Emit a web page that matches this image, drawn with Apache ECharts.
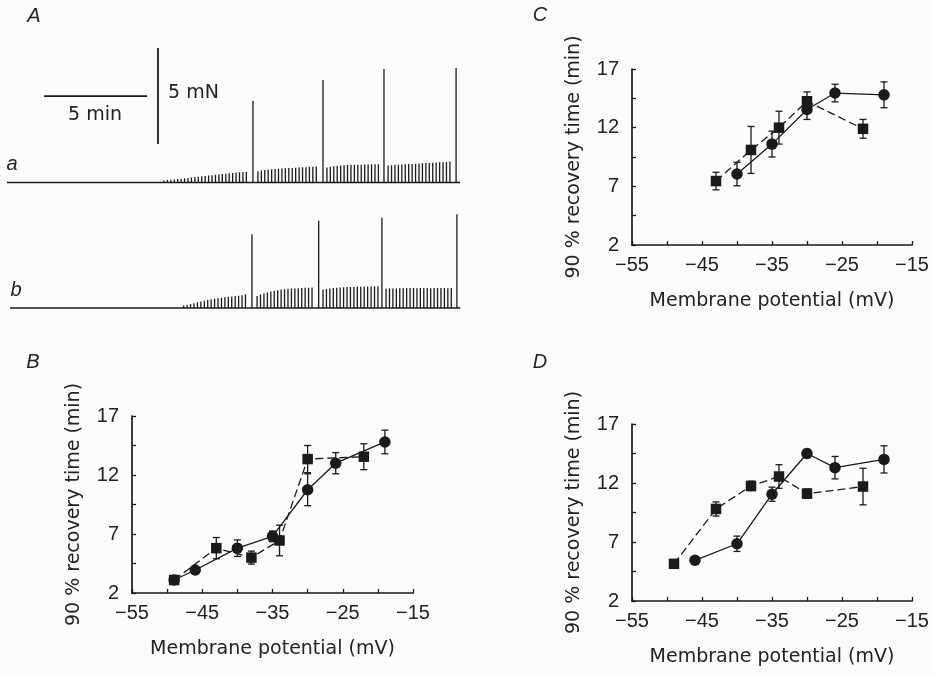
<!DOCTYPE html>
<html>
<head>
<meta charset="utf-8">
<script src="https://cdn.jsdelivr.net/npm/echarts@6/dist/echarts.min.js"></script>
<style>
  html, body { margin: 0; padding: 0; background: #fbfbfb; }
  #chart { width: 933px; height: 675px; }
</style>
</head>
<body>
<div id="chart"></div>
<script>
// ---------- Panel A: force records (time in min, force in mN) ----------
const twitchInterval = 1 / 6;          // one twitch every 10 s
const recordEnd = 22.0;

// record a
const recordAStart = 0.0;
const recordASegStarts = [6.12, 12.18, 15.53, 18.50];
const recordASeg0 = [0.02, 0.03, 0.03, 0.04, 0.05, 0.06, 0.07, 0.08, 0.10, 0.11, 0.13, 0.14, 0.16, 0.18, 0.20, 0.22, 0.24,
                     0.26, 0.28, 0.30, 0.32, 0.34, 0.36, 0.38, 0.40, 0.42, 0.44, 0.46, 0.48, 0.50, 0.52, 0.53, 0.55, 0.56];
const recordASeg1 = [0.58, 0.62, 0.65, 0.67, 0.69, 0.70, 0.72, 0.73, 0.74, 0.75, 0.76, 0.77, 0.78, 0.79, 0.80, 0.81, 0.82, 0.83];
const recordASeg2 = [0.78, 0.82, 0.85, 0.87, 0.88, 0.90, 0.91, 0.92, 0.92, 0.93, 0.93, 0.94, 0.94, 0.95, 0.95, 0.95];
const recordASeg3 = [0.88, 0.90, 0.92, 0.93, 0.94, 0.95, 0.96, 0.97, 0.98, 0.99, 1.00, 1.01, 1.02, 1.03, 1.04, 1.05, 1.06, 1.07, 1.10];
const recordASpikeTimes = [11.94, 15.34, 18.30, 21.80];
const recordASpikeForces = [4.24, 5.34, 5.91, 5.96];

// record b
const recordBStart = 0.15;
const recordBSegStarts = [7.91, 12.14, 15.34, 18.40];
const recordBSeg0 = [0.03, 0.05, 0.07, 0.10, 0.13, 0.17, 0.21, 0.25, 0.30, 0.34, 0.38, 0.42, 0.45, 0.48, 0.51, 0.54, 0.56,
                     0.58, 0.60, 0.62, 0.64, 0.66, 0.70];
const recordBSeg1 = [0.62, 0.70, 0.76, 0.81, 0.86, 0.90, 0.93, 0.96, 0.98, 1.00, 1.01, 1.02, 1.03, 1.04, 1.05, 1.06, 1.07];
const recordBSeg2 = [0.96, 0.99, 1.02, 1.04, 1.06, 1.07, 1.08, 1.09, 1.10, 1.10, 1.11, 1.11, 1.12, 1.12, 1.12, 1.13, 1.13];
const recordBSeg3 = [1.00, 1.01, 1.02, 1.02, 1.03, 1.03, 1.03, 1.04, 1.04, 1.03, 1.04, 1.04, 1.04, 1.03, 1.04, 1.04, 1.04, 1.04, 1.03, 1.04];
const recordBSpikeTimes = [11.89, 15.13, 18.20, 21.84];
const recordBSpikeForces = [3.84, 4.55, 4.70, 4.88];

// calibration bars
const scaleMinutes = 5;
const scaleForce = 5;
const scaleBarTimeStart = 1.80, scaleBarTimeLevel = 4.5;
const scaleBarForceTime = 7.33, scaleBarForceStart = 2.0;

// ---------- Panels B–D: 90 % recovery time vs membrane potential ----------
const xTicks = [-55, -50, -45, -40, -35, -30, -25, -20, -15];
const xLabels = [-55, -45, -35, -25, -15];
const yTicks = [2, 4.5, 7, 9.5, 12, 14.5, 17];
const yLabels = [2, 7, 12, 17];

// B
const bCircleMv = [-49, -46, -40, -35, -30, -26, -19];
const bCircleMin = [3.1, 3.95, 5.8, 6.8, 10.75, 13.0, 14.8];
const bCircleErr = [0, 0, 0.7, 0.45, 1.35, 0.9, 1.0];
const bSquareMv = [-49, -43, -38, -34, -30, -22];
const bSquareMin = [3.1, 5.8, 5.0, 6.45, 13.35, 13.55];
const bSquareErr = [0, 0.9, 0.55, 1.3, 1.15, 1.1];

// C
const cCircleMv = [-40, -35, -30, -26, -19];
const cCircleMin = [8.05, 10.6, 13.55, 14.95, 14.8];
const cCircleErr = [1.0, 1.1, 0.85, 0.75, 1.1];
const cSquareMv = [-43, -38, -34, -30, -22];
const cSquareMin = [7.45, 10.1, 12.0, 14.25, 11.9];
const cSquareErr = [0.75, 2.0, 1.4, 0.8, 0.8];

// D
const dCircleMv = [-46, -40, -35, -30, -26, -19];
const dCircleMin = [5.45, 6.85, 11.05, 14.5, 13.3, 14.0];
const dCircleErr = [0, 0.65, 0.6, 0.35, 0.95, 1.15];
const dSquareMv = [-49, -43, -38, -34, -30, -22];
const dSquareMin = [5.15, 9.8, 11.75, 12.55, 11.1, 11.7];
const dSquareErr = [0.15, 0.6, 0.4, 1.0, 0.4, 1.55];

// ---------- styling ----------
const ink = '#1a1a1a';
const textInk = '#222222';
const tickFont = 'Liberation Sans';
const titleFont = 'DejaVu Sans';

function buildRecord(start, segStarts, segs, spikeTimes, spikeForces) {
  const events = [];
  segs.forEach((amps, k) => amps.forEach((a, i) => events.push([segStarts[k] + i * twitchInterval, a])));
  spikeTimes.forEach((t, i) => events.push([t, spikeForces[i]]));
  events.sort((p, q) => p[0] - q[0]);
  const pts = [[start, 0]];
  events.forEach(([t, a]) => { pts.push([t, 0], [t, a], [t, 0]); });
  pts.push([recordEnd, 0]);
  return pts;
}

const recordA = buildRecord(recordAStart, recordASegStarts,
  [recordASeg0, recordASeg1, recordASeg2, recordASeg3], recordASpikeTimes, recordASpikeForces);
const recordB = buildRecord(recordBStart, recordBSegStarts,
  [recordBSeg0, recordBSeg1, recordBSeg2, recordBSeg3], recordBSpikeTimes, recordBSpikeForces);

const minus = v => String(v).replace('-', '\u2212');

// grids: 0 = record a, 1 = record b, 2 = B, 3 = C, 4 = D
const grids = [
  { left: 7, width: 453.2, top: 38.5, height: 153.6 },
  { left: 7, width: 453.2, top: 202.4, height: 115.2 },
  { left: 132, width: 281, top: 416, height: 177 },
  { left: 632, width: 280, top: 69, height: 176 },
  { left: 632, width: 280, top: 424, height: 177 }
];

const hiddenX = i => ({ gridIndex: i, type: 'value', min: 0, max: recordEnd, show: false });
const plotX = i => ({
  gridIndex: i, type: 'value', min: -55, max: -15,
  axisLine: { show: true, onZero: false, lineStyle: { color: ink, width: 1.7 } },
  axisTick: { show: true, inside: true, length: 4, customValues: xTicks, lineStyle: { color: ink, width: 1.3 } },
  axisLabel: { customValues: xLabels, formatter: minus, fontFamily: tickFont, fontSize: 20, color: textInk, margin: 10 },
  splitLine: { show: false },
  name: 'Membrane potential (mV)', nameLocation: 'middle', nameGap: 47,
  nameTextStyle: { fontFamily: titleFont, fontSize: 19, color: textInk }
});
const plotY = i => ({
  gridIndex: i, type: 'value', min: 2, max: 17,
  axisLine: { show: true, onZero: false, lineStyle: { color: ink, width: 1.7 } },
  axisTick: { show: true, inside: true, length: 4, customValues: yTicks, lineStyle: { color: ink, width: 1.3 } },
  axisLabel: { customValues: yLabels, fontFamily: tickFont, fontSize: 20, color: textInk, margin: 13 },
  splitLine: { show: false },
  name: '90 % recovery time (min)', nameLocation: 'middle', nameGap: 48, nameRotate: 90,
  nameTextStyle: { fontFamily: titleFont, fontSize: 19, color: textInk }
});

function errorBars(g, xs, ys, errs) {
  const data = [];
  xs.forEach((x, i) => { if (errs[i] > 0) data.push([x, ys[i] - errs[i], ys[i] + errs[i]]); });
  return {
    type: 'custom', xAxisIndex: g, yAxisIndex: g, z: 2, silent: true,
    data,
    renderItem(params, api) {
      const lo = api.coord([api.value(0), api.value(1)]);
      const hi = api.coord([api.value(0), api.value(2)]);
      const w = 3.5;
      const st = { stroke: ink, lineWidth: 1.3 };
      return {
        type: 'group', children: [
          { type: 'line', shape: { x1: lo[0], y1: lo[1], x2: hi[0], y2: hi[1] }, style: st },
          { type: 'line', shape: { x1: lo[0] - w, y1: lo[1], x2: lo[0] + w, y2: lo[1] }, style: st },
          { type: 'line', shape: { x1: hi[0] - w, y1: hi[1], x2: hi[0] + w, y2: hi[1] }, style: st }
        ]
      };
    }
  };
}

function curve(g, xs, ys, shape) {
  const isSquare = shape === 'rect';
  return {
    type: 'line', xAxisIndex: g, yAxisIndex: g, z: isSquare ? 4 : 3,
    data: xs.map((x, i) => [x, ys[i]]),
    symbol: shape, symbolSize: isSquare ? 10.5 : 11.5,
    itemStyle: { color: ink },
    lineStyle: { color: ink, width: 1.3, type: isSquare ? [8, 4] : 'solid' },
    animation: false
  };
}

const panelLetter = (text, x, y) => ({
  type: 'text', x, y,
  style: { text, fontFamily: 'Liberation Sans', fontStyle: 'italic', fontSize: 20, fill: textInk,
           align: 'center', verticalAlign: 'middle' }
});

const option = {
  backgroundColor: '#fbfbfb',
  animation: false,
  grid: grids,
  xAxis: [hiddenX(0), hiddenX(1), plotX(2), plotX(3), plotX(4)],
  yAxis: [
    { gridIndex: 0, type: 'value', min: -0.5, max: 7.5, show: false },
    { gridIndex: 1, type: 'value', min: -0.5, max: 5.5, show: false },
    plotY(2), plotY(3), plotY(4)
  ],
  series: [
    { type: 'line', xAxisIndex: 0, yAxisIndex: 0, data: recordA, symbol: 'none',
      lineStyle: { color: ink, width: 1.3 } },
    { type: 'line', xAxisIndex: 1, yAxisIndex: 1, data: recordB, symbol: 'none',
      lineStyle: { color: ink, width: 1.3 } },
    // calibration bars
    { type: 'line', xAxisIndex: 0, yAxisIndex: 0, symbol: 'none', lineStyle: { color: ink, width: 1.8 },
      data: [[scaleBarTimeStart, scaleBarTimeLevel], [scaleBarTimeStart + scaleMinutes, scaleBarTimeLevel]] },
    { type: 'line', xAxisIndex: 0, yAxisIndex: 0, symbol: 'none', lineStyle: { color: ink, width: 1.8 },
      data: [[scaleBarForceTime, scaleBarForceStart], [scaleBarForceTime, scaleBarForceStart + scaleForce]] },

    errorBars(2, bCircleMv, bCircleMin, bCircleErr),
    errorBars(2, bSquareMv, bSquareMin, bSquareErr),
    curve(2, bCircleMv, bCircleMin, 'circle'),
    curve(2, bSquareMv, bSquareMin, 'rect'),

    errorBars(3, cCircleMv, cCircleMin, cCircleErr),
    errorBars(3, cSquareMv, cSquareMin, cSquareErr),
    curve(3, cCircleMv, cCircleMin, 'circle'),
    curve(3, cSquareMv, cSquareMin, 'rect'),

    errorBars(4, dCircleMv, dCircleMin, dCircleErr),
    errorBars(4, dSquareMv, dSquareMin, dSquareErr),
    curve(4, dCircleMv, dCircleMin, 'circle'),
    curve(4, dSquareMv, dSquareMin, 'rect')
  ],
  graphic: [
    panelLetter('A', 34, 16),
    panelLetter('a', 12, 164),
    panelLetter('b', 16, 290),
    panelLetter('B', 33, 362),
    panelLetter('C', 540, 15),
    panelLetter('D', 540, 362),
    { type: 'text', x: 95, y: 115,
      style: { text: scaleMinutes + ' min', fontFamily: titleFont, fontSize: 19, fill: textInk, align: 'center', verticalAlign: 'middle' } },
    { type: 'text', x: 168, y: 93,
      style: { text: scaleForce + ' mN', fontFamily: titleFont, fontSize: 19, fill: textInk, align: 'left', verticalAlign: 'middle' } }
  ]
};

const chart = echarts.init(document.getElementById('chart'), null, { renderer: 'canvas' });
chart.setOption(option);
</script>
</body>
</html>
